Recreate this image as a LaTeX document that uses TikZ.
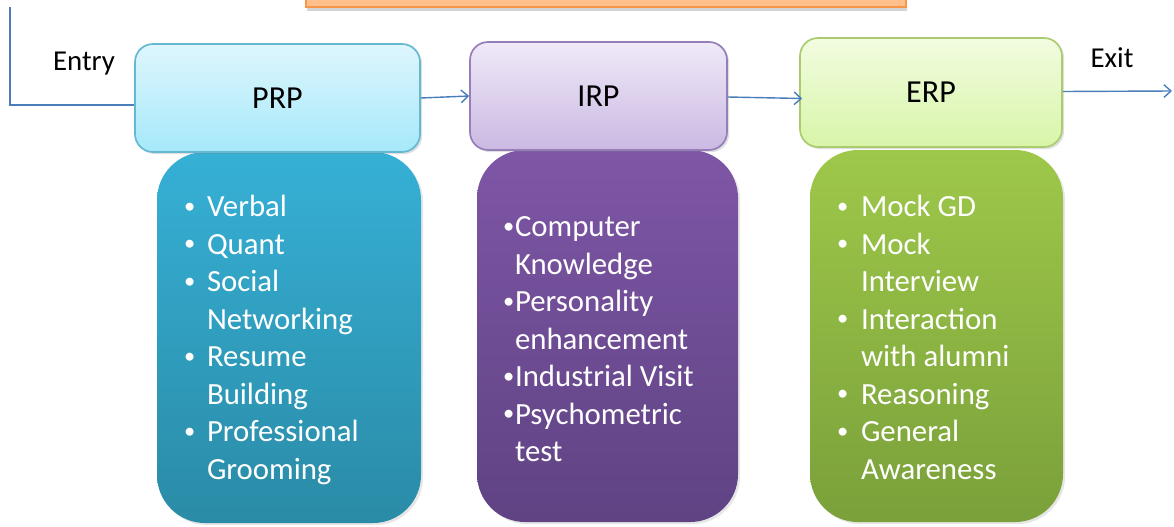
\documentclass[tikz,border=0pt]{standalone}
\usepackage{fontspec}
\setmainfont{Carlito}
\usepackage{tikz}
\usetikzlibrary{arrows.meta, positioning, shadows}

\newlength{\unitpx}
\setlength{\unitpx}{0.025cm}
\newcommand{\dotmark}{\raisebox{0.12em}{\fontsize{16}{16}\selectfont •}}

\definecolor{connblue}{HTML}{4A7EBB}
\definecolor{bannerfill}{HTML}{FFC08C}
\definecolor{bannerdraw}{HTML}{F79646}

\begin{document}
\begin{tikzpicture}[
	x=0.025cm, y=-0.025cm,
	Head/.style={rectangle, rounded corners=18\unitpx, line width=1.2pt,
		minimum height=108\unitpx, font=\fontsize{22.8}{26}\selectfont,
		drop shadow={opacity=0.25, shadow xshift=1.5pt, shadow yshift=-1.5pt}},
	Body/.style={rectangle, rounded corners=48\unitpx, draw=none,
		minimum height=372\unitpx,
		drop shadow={opacity=0.2, shadow xshift=1.5pt, shadow yshift=-1.5pt}},
	Items/.style={anchor=base west, inner sep=0pt, text=white,
		font=\fontsize{21.9}{26.7}\selectfont},
	Side/.style={anchor=base, inner sep=0pt, font=\fontsize{20.5}{24}\selectfont},
	Conn/.style={draw=connblue, line width=1pt,
		-{Straight Barb[length=5pt, width=9pt]}}
	]
\useasboundingbox (0,0) rectangle (1174,526);
\clip (0,0) rectangle (1174,526);

% banner at the top, mostly cut off
\node [rectangle, fill=bannerfill, draw=bannerdraw, line width=1.5pt,
	minimum width=600\unitpx, minimum height=50\unitpx,
	drop shadow={opacity=0.35, shadow xshift=1pt, shadow yshift=-3pt}]
	(banner) at (606,-18) {};

% lower boxes with the topics
\node [Body, top color={rgb,255:red,54;green,176;blue,214},
	bottom color={rgb,255:red,42;green,139;blue,166},
	minimum width=264\unitpx, minimum height=371\unitpx] (prpBody) at (289,337.5) {};
\node [Body, top color={rgb,255:red,126;green,86;blue,166},
	bottom color={rgb,255:red,95;green,67;blue,131},
	minimum width=261\unitpx] (irpBody) at (607.5,336) {};
\node [Body, top color={rgb,255:red,158;green,200;blue,74},
	bottom color={rgb,255:red,122;green,160;blue,58},
	minimum width=253\unitpx] (erpBody) at (936.5,336) {};

% upper boxes
\node [Head, draw={rgb,255:red,100;green,184;blue,210},
	top color={rgb,255:red,222;green,246;blue,253},
	bottom color={rgb,255:red,166;green,233;blue,250},
	minimum width=285\unitpx] (prp) at (277.5,98) {PRP};
\node [Head, draw={rgb,255:red,150;green,126;blue,186},
	top color={rgb,255:red,239;green,233;blue,248},
	bottom color={rgb,255:red,203;green,185;blue,226},
	minimum width=257\unitpx] (irp) at (598.5,96) {IRP};
\node [Head, draw={rgb,255:red,170;green,204;blue,110},
	top color={rgb,255:red,242;green,252;blue,225},
	bottom color={rgb,255:red,216;green,245;blue,168},
	minimum width=262\unitpx, minimum height=109\unitpx] (erp) at (931,92.5) {ERP};

% topic lists
\node [Items] (prpText) at ([xshift=27\unitpx, yshift=-65\unitpx]prpBody.north west) {%
	\begin{tabular}[t]{@{}p{23\unitpx}@{}l@{}}
	\dotmark & Verbal\\
	\dotmark & Quant\\
	\dotmark & Social\\
	  & Networking\\
	\dotmark & Resume\\
	  & Building\\
	\dotmark & Professional\\
	  & Grooming
	\end{tabular}};
\node [Items] (irpText) at ([xshift=26\unitpx, yshift=-87\unitpx]irpBody.north west) {%
	\begin{tabular}[t]{@{}p{12\unitpx}@{}l@{}}
	\dotmark & Computer\\
	  & Knowledge\\
	\dotmark & Personality\\
	  & enhancement\\
	\dotmark & Industrial Visit\\
	\dotmark & Psychometric\\
	  & test
	\end{tabular}};
\node [Items] (erpText) at ([xshift=27\unitpx, yshift=-67\unitpx]erpBody.north west) {%
	\begin{tabular}[t]{@{}p{24\unitpx}@{}l@{}}
	\dotmark & Mock GD\\
	\dotmark & Mock\\
	  & Interview\\
	\dotmark & Interaction\\
	  & with alumni\\
	\dotmark & Reasoning\\
	\dotmark & General\\
	  & Awareness
	\end{tabular}};

% entry and exit
\node [Side] (entry) at (84,70) {Entry};
\node [Side] (exit) at (1112,67) {Exit};
\coordinate (entryTop) at (10,7);
\coordinate (exitEnd) at (1172,91);

\draw [draw=connblue, line width=1pt] (entryTop) |- ([yshift=-7\unitpx]prp.west);
\draw [Conn] (prp.east) -- (irp.west);
\draw [Conn] ([yshift=-1\unitpx]irp.east) -- ([xshift=3\unitpx, yshift=-6\unitpx]erp.west);
\draw [Conn] ([yshift=1\unitpx]erp.east) -- (exitEnd);

\end{tikzpicture}
\end{document}
